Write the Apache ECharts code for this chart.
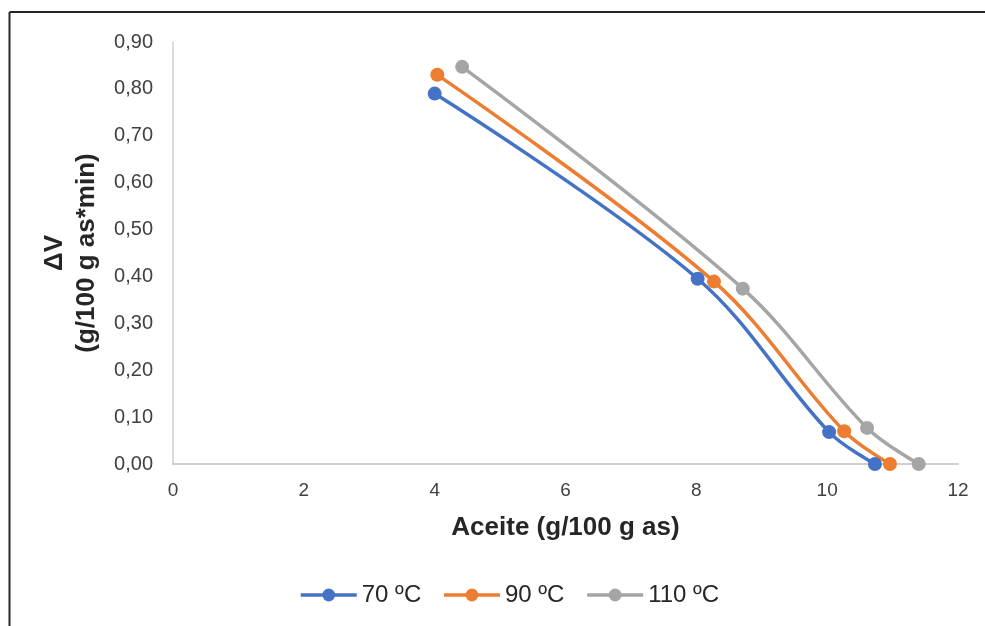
<!DOCTYPE html>
<html>
<head>
<meta charset="utf-8">
<script src="https://cdn.jsdelivr.net/npm/echarts@6/dist/echarts.min.js"></script>
<style>
  html, body { margin: 0; padding: 0; background: #fff; }
  #main { width: 985px; height: 626px; }
</style>
</head>
<body>
<div id="main"></div>
<script>
// datos
var serieNames = ['70 ºC', '90 ºC', '110 ºC'];
var colors = ['#4472c4', '#ed7d31', '#a5a5a5'];
var aceite70 = [4.00, 8.02, 10.03, 10.73];
var dv70 = [0.79, 0.395, 0.068, 0.0];
var aceite90 = [4.04, 8.27, 10.26, 10.96];
var dv90 = [0.83, 0.389, 0.070, 0.0];
var aceite110 = [4.42, 8.71, 10.61, 11.40];
var dv110 = [0.847, 0.374, 0.077, 0.0];

function pares(xs, ys) {
  var out = [];
  for (var i = 0; i < xs.length; i++) out.push([xs[i], ys[i]]);
  return out;
}

var datos = [pares(aceite70, dv70), pares(aceite90, dv90), pares(aceite110, dv110)];
var fuente = 'Liberation Sans, Arial';

var myChart = echarts.init(document.getElementById('main'));
var series = [];
for (var k = 0; k < 3; k++) {
  series.push({
    name: serieNames[k],
    type: 'line',
    data: datos[k],
    smooth: 0.35,
    symbol: 'circle',
    symbolSize: 14,
    lineStyle: { width: 3.5, color: colors[k] },
    itemStyle: { color: colors[k] }
  });
}

var option = {
  backgroundColor: '#fff',
  color: colors,
  animation: false,
  grid: { left: 173, right: 27, top: 42, bottom: 162 },
  legend: {
    top: 578,
    left: 294,
    itemWidth: 56,
    itemHeight: 16,
    itemGap: 21,
    lineStyle: { width: 3.5 },
    textStyle: { fontSize: 24, color: '#262626', fontFamily: fuente },
    data: serieNames
  },
  xAxis: {
    type: 'value',
    min: 0, max: 12, interval: 2,
    name: 'Aceite (g/100 g as)',
    nameLocation: 'middle',
    nameGap: 51,
    nameTextStyle: { fontSize: 26, fontWeight: 'bold', color: '#262626', fontFamily: fuente },
    axisLine: { lineStyle: { color: '#cfcfcf', width: 2 } },
    axisTick: { show: false },
    splitLine: { show: false },
    axisLabel: { fontSize: 19, color: '#404040', margin: 17, fontFamily: fuente }
  },
  yAxis: {
    type: 'value',
    min: 0, max: 0.9, interval: 0.1,
    name: 'ΔV\n(g/100 g as*min)',
    nameLocation: 'middle',
    nameGap: 63,
    nameTextStyle: { fontSize: 26, fontWeight: 'bold', color: '#262626', lineHeight: 32, fontFamily: fuente },
    axisLine: { show: true, lineStyle: { color: '#cfcfcf', width: 1.5 } },
    axisTick: { show: false },
    splitLine: { show: false },
    axisLabel: {
      fontSize: 20, color: '#404040', margin: 20, fontFamily: fuente,
      formatter: function (v) { return v.toFixed(2).replace('.', ','); }
    }
  },
  graphic: [
    { type: 'line', shape: { x1: 9.5, y1: 12, x2: 985, y2: 12 }, style: { stroke: '#262626', lineWidth: 2 } },
    { type: 'line', shape: { x1: 9.5, y1: 12, x2: 9.5, y2: 626 }, style: { stroke: '#262626', lineWidth: 2 } }
  ],
  series: series
};
myChart.setOption(option);
</script>
</body>
</html>
